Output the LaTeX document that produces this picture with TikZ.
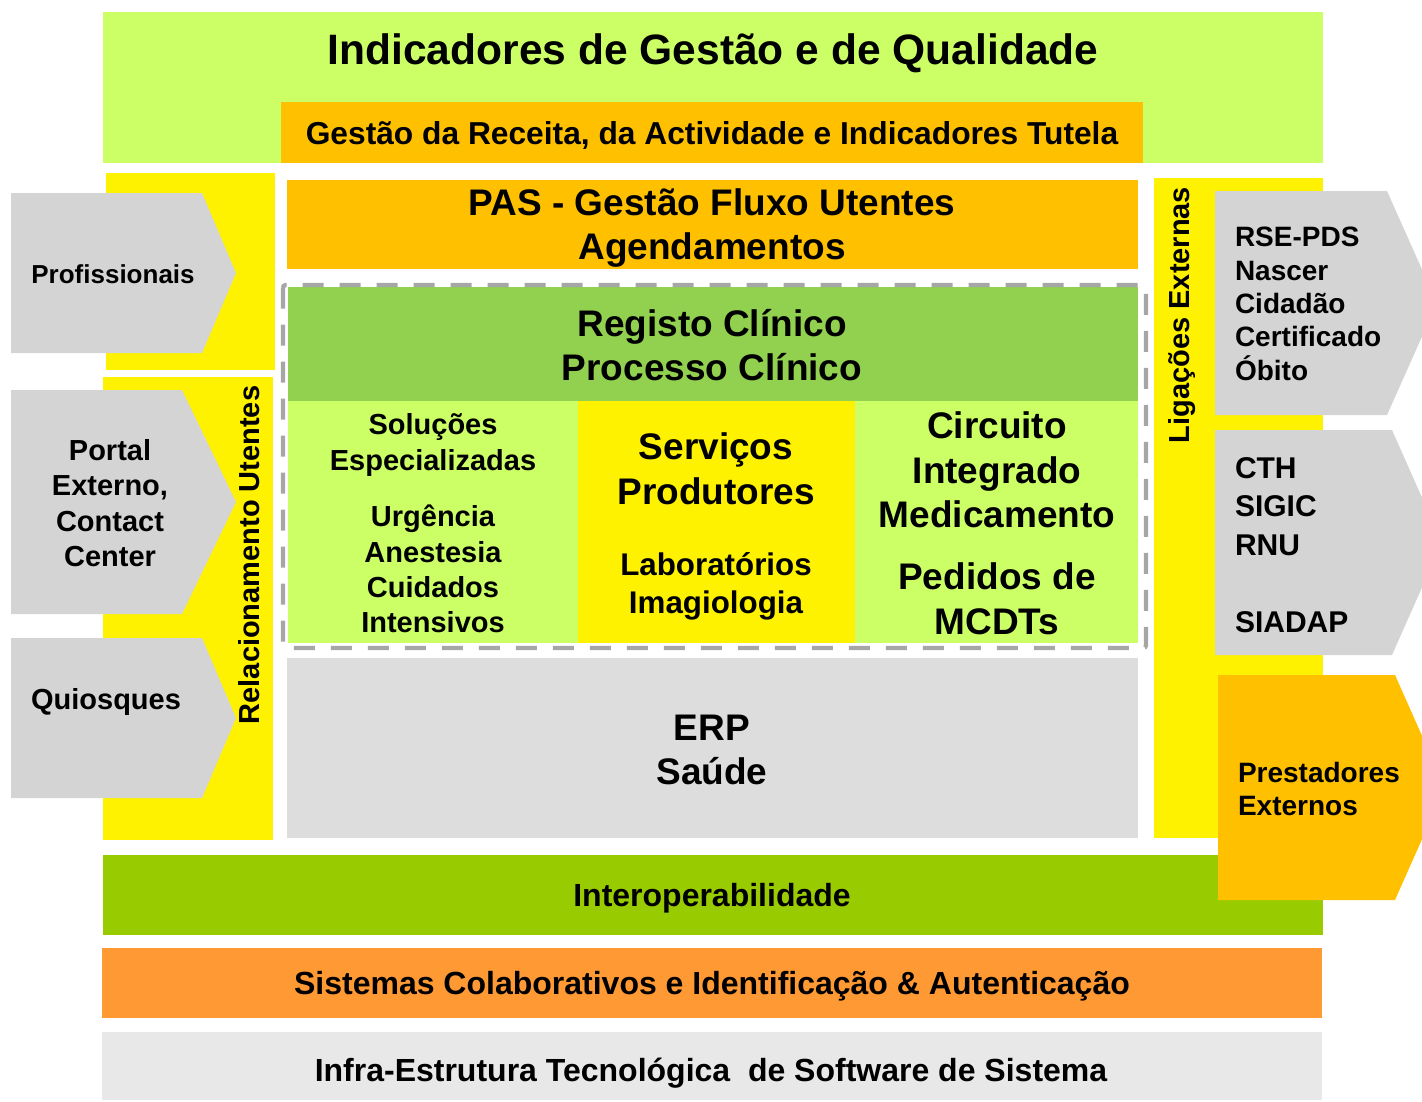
\documentclass[tikz,border=0pt]{standalone}
\usepackage{fontspec}
\setmainfont{Liberation Sans}

\definecolor{lime}{HTML}{CCFF66}
\definecolor{amber}{HTML}{FFC000}
\definecolor{leaf}{HTML}{92D050}
\definecolor{grass}{HTML}{99CC00}
\definecolor{tangerine}{HTML}{FF9933}
\definecolor{arrowgray}{HTML}{D4D4D4}
\definecolor{erpgray}{HTML}{DDDDDD}
\definecolor{infragray}{HTML}{E8E8E8}
\definecolor{dashgray}{HTML}{A6A6A6}

\newcommand\titlefs{\fontsize{31.9}{38}\selectfont}
\newcommand\barfs{\fontsize{23.8}{28.6}\selectfont}
\newcommand\layerfs{\fontsize{24}{28.8}\selectfont}
\newcommand\bigfs{\fontsize{27.75}{33.4}\selectfont}
\newcommand\midfs{\fontsize{23.5}{28.5}\selectfont}
\newcommand\smallfs{\fontsize{21.75}{26.5}\selectfont}
\newcommand\tinyfs{\fontsize{21}{25}\selectfont}

\tikzset{inner sep=0pt, outer sep=0pt}
\tikzset{
  lbl/.style={font=\bfseries, align=center},
  lbll/.style={font=\bfseries, align=left, anchor=west},
}

\begin{document}
\begin{tikzpicture}[x=0.75pt, y=-0.75pt]
\useasboundingbox (0,0) rectangle (1422,1101);
\clip (0,0) rectangle (1422,1101);

% top layers
\fill[lime] (103,12) rectangle (1323,163);
\fill[amber] (281,102) rectangle (1143,163);
\node[lbl, font=\bfseries\titlefs] (indic) at (713,53) {Indicadores de Gestão e de Qualidade};
\node[lbl, font=\bfseries\barfs] (receita) at (712,135) {Gestão da Receita, da Actividade e Indicadores Tutela};

% side columns
\fill[yellow] (106,173) rectangle (275,370);
\fill[yellow] (103,377) rectangle (273,840);
\fill[yellow] (1154,178) rectangle (1323,838);

% PAS
\fill[amber] (287,180) rectangle (1138,269);
\node[lbl, font=\bfseries\bigfs] (pas) at (712,228) {PAS - Gestão Fluxo Utentes\\Agendamentos};

% clinical core
\fill[leaf] (288,287) rectangle (1138,401);
\fill[lime] (288,401) rectangle (578,643);
\fill[yellow] (578,401) rectangle (855,643);
\fill[lime] (855,401) rectangle (1138,643);
\draw[dashgray, line width=3.2pt, dash pattern=on 15.75pt off 12pt, rounded corners=2pt]
  (283,285) rectangle (1146,648);
\node[lbl, font=\bfseries\bigfs] (registo) at (712,345) {Registo Clínico\\Processo Clínico};
\node[lbl, font=\bfseries\smallfs] (solucoes) at (433,445) {Soluções\\Especializadas};
\node[lbl, font=\bfseries\smallfs] (urgencia) at (433,569) {Urgência\\Anestesia\\Cuidados\\Intensivos};
\node[lbl, font=\bfseries\bigfs] (servicos) at (716,469) {Serviços\\Produtores};
\node[lbl, font=\bfseries\midfs] (labs) at (716,586) {Laboratórios\\Imagiologia};
\node[lbl, font=\bfseries\bigfs] (circuito) at (997,470) {Circuito\\Integrado\\Medicamento};
\node[lbl, font=\bfseries\bigfs] (pedidos) at (997,599) {Pedidos de\\MCDTs};

% ERP
\fill[erpgray] (287,658) rectangle (1138,838);
\node[lbl, font=\bfseries\bigfs] (erp) at (712,750) {ERP\\Saúde};

% bottom layers
\fill[grass] (103,855) rectangle (1323,935);
\fill[tangerine] (102,948) rectangle (1322,1018);
\fill[infragray] (102,1032) rectangle (1322,1100);
\node[lbl, font=\bfseries\layerfs] (interop) at (712,898) {Interoperabilidade};
\node[lbl, font=\bfseries\layerfs] (colab) at (712,986) {Sistemas Colaborativos e Identificação \& Autenticação};
\node[lbl, font=\bfseries\layerfs] (infra) at (711,1073) {Infra-Estrutura Tecnológica\ \ de Software de Sistema};

% left arrows
\foreach \ya/\yb/\xb in {193/353/202, 390/614/182, 638/798/202} {
  \fill[arrowgray] (11,\ya) -- (\xb,\ya) -- (236,{(\ya+\yb)/2}) -- (\xb,\yb) -- (11,\yb) -- cycle;
} % end of \foreach
\node[lbl, font=\bfseries\fontsize{19.5}{23.5}\selectfont] (prof) at (113,274) {Profissionais};
\node[lbl, font=\bfseries\smallfs] (portal) at (110,503) {Portal\\Externo,\\Contact\\Center};
\node[lbl, font=\bfseries\smallfs] (quiosq) at (106,702) {Quiosques};
\node[lbl, font=\bfseries\smallfs, rotate=90] (relac) at (249,555) {Relacionamento Utentes};
\node[lbl, font=\bfseries\smallfs, rotate=90] (ligac) at (1182,315) {Ligações Externas};

% right arrows
\foreach \xa/\ya/\yb/\xb/\col in {1215/191/415/1387/arrowgray, 1215/430/655/1392/arrowgray, 1218/675/900/1395/amber} {
  \fill[\col] (\xa,\ya) -- (\xb,\ya) -- ({\xb+50},{(\ya+\yb)/2}) -- (\xb,\yb) -- (\xa,\yb) -- cycle;
} % end of \foreach
\node[lbll, font=\bfseries\tinyfs] (rse) at (1235,304) {RSE-PDS\\Nascer\\Cidadão\\Certificado\\Óbito};
\node[lbll, font=\bfseries\fontsize{22.5}{29}\selectfont] (cth) at (1235,545) {CTH\\SIGIC\\RNU\\\mbox{}\\SIADAP};
\node[lbll, font=\bfseries\tinyfs] (prest) at (1238,789) {Prestadores\\Externos};
\end{tikzpicture}
\end{document}
